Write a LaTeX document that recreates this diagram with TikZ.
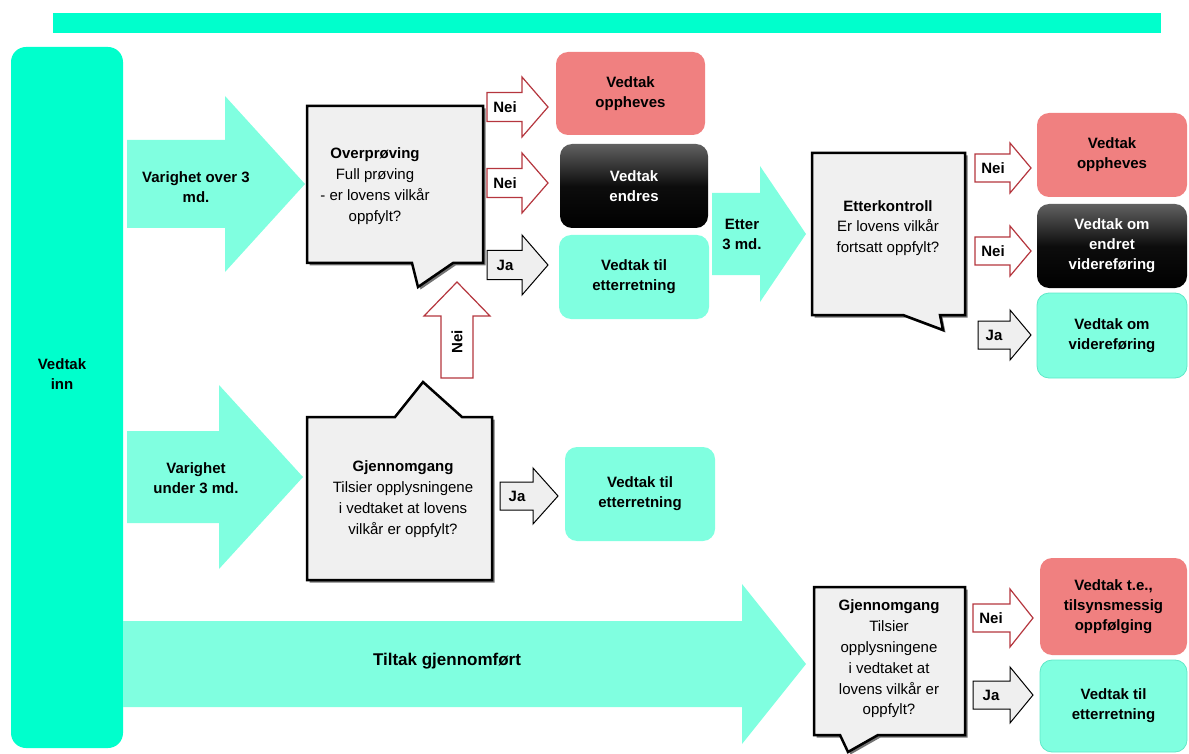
\documentclass[tikz,border=0pt]{standalone}
\usepackage{fontspec}
\setmainfont{Liberation Sans}
\definecolor{barcol}{HTML}{00FFCC}
\definecolor{aqua}{HTML}{80FFE0}
\definecolor{aquaedge}{HTML}{5FE8C8}
\definecolor{coral}{HTML}{F08080}
\definecolor{nered}{HTML}{B5363E}
\definecolor{callfill}{HTML}{F0F0F0}
\definecolor{jafill}{HTML}{EFEFEF}
\newcommand\blkarrow[7][]{\path[#1] (#2,#5-#6) -- (#3,#5-#6) -- (#3,#5-#7) -- (#4,#5) -- (#3,#5+#7) -- (#3,#5+#6) -- (#2,#5+#6) -- cycle;}
\tikzset{
  txt/.style={align=center, inner sep=0pt, font=\fontsize{15}{20.8}\selectfont},
  btxt/.style={align=center, inner sep=0pt, font=\fontsize{15}{20}\selectfont\bfseries},
  bigarrow/.style={fill=aqua},
  neiarrow/.style={fill=white, draw=nered, line width=1.2pt},
  jaarrow/.style={fill=jafill, draw=black, line width=1pt},
  callbox/.style={fill=callfill, draw=black, line width=2.5pt},
  callshadow/.style={fill=black!55},
  resbox/.style={btxt, rounded corners=12pt},
  redbox/.style={resbox, fill=coral},
  blackbox/.style={resbox, top color=black!62, bottom color=black, middle color=black!95, text=white},
  aquabox/.style={resbox, fill=aqua},
  aquaboxe/.style={resbox, fill=aqua, draw=aquaedge, line width=0.8pt},
}
\begin{document}
\begin{tikzpicture}[x=1pt,y=-1pt]
\useasboundingbox (0,0) rectangle (1189,754);
% top bar
\fill[barcol] (53,13) rectangle (1161,33);
% left bar
\node[btxt, fill=barcol, rounded corners=15pt, minimum width=112pt, minimum height=701pt] (inn) at (67,397.5) {};
\node[btxt] (inntxt) at (62,374) {Vedtak\\inn};
% big arrows
\blkarrow[bigarrow]{127}{225}{305}{184}{44}{88}
\node[btxt] (over) at (196,187) {Varighet over 3\\md.};
\blkarrow[bigarrow]{127}{219}{303}{477}{46}{92}
\node[btxt] (under) at (196,478) {Varighet\\under 3 md.};
\blkarrow[bigarrow]{123}{742}{806}{664}{43}{80}
\node[btxt, font=\fontsize{17}{20}\selectfont\bfseries] (tiltak) at (447,661) {Tiltak gjennomført};
\blkarrow[bigarrow]{712}{760}{806}{234}{41}{68}
\node[btxt] (etter) at (742,234) {Etter\\3 md.};
% callout 1
\fill[callshadow] (309.5,108.5) -- (485.5,108.5) -- (485.5,265.5) -- (455.5,265.5) -- (420.5,289.5) -- (414.5,265.5) -- (309.5,265.5) -- cycle;
\filldraw[callbox] (307,106) -- (483,106) -- (483,263) -- (453,263) -- (418,287) -- (412,263) -- (307,263) -- cycle;
\node[txt] (c1) at (375,186) {\textbf{Overprøving}\\Full prøving\\- er lovens vilkår\\oppfylt?};
% callout 2
\fill[callshadow] (309.5,419.5) -- (397.5,419.5) -- (425.5,384.5) -- (464.5,419.5) -- (494.5,419.5) -- (494.5,582.5) -- (309.5,582.5) -- cycle;
\filldraw[callbox] (307,417) -- (395,417) -- (423,382) -- (462,417) -- (492,417) -- (492,580) -- (307,580) -- cycle;
\node[txt] (c2) at (403,499) {\textbf{Gjennomgang}\\Tilsier opplysningene\\i vedtaket at lovens\\vilkår er oppfylt?};
% callout 3
\fill[callshadow] (814.5,155.5) -- (967.5,155.5) -- (967.5,317.5) -- (942.5,317.5) -- (945.5,332.5) -- (905.5,317.5) -- (814.5,317.5) -- cycle;
\filldraw[callbox] (812,153) -- (965,153) -- (965,315) -- (940,315) -- (943,330) -- (903,315) -- (812,315) -- cycle;
\node[txt] (c3) at (888,228) {\textbf{Etterkontroll}\\Er lovens vilkår\\fortsatt oppfylt?};
% callout 4
\fill[callshadow] (816.5,589.5) -- (967.5,589.5) -- (967.5,737.5) -- (880.5,737.5) -- (850.5,754.5) -- (842.5,737.5) -- (816.5,737.5) -- cycle;
\filldraw[callbox] (814,587) -- (965,587) -- (965,735) -- (878,735) -- (848,752) -- (840,735) -- (814,735) -- cycle;
\node[txt] (c4) at (889,659) {\textbf{Gjennomgang}\\Tilsier\\opplysningene\\i vedtaket at\\lovens vilkår er\\oppfylt?};
% result boxes
\node[redbox, minimum width=149pt, minimum height=83pt] (r1) at (630.5,93.5) {Vedtak\\oppheves};
\node[blackbox, minimum width=148pt, minimum height=84pt] (b1) at (634,186) {Vedtak\\endres};
\node[aquabox, minimum width=150pt, minimum height=84pt] (a1) at (634,277) {Vedtak til\\etterretning};
\node[aquabox, minimum width=150pt, minimum height=94pt] (a2) at (640,494) {Vedtak til\\etterretning};
\node[redbox, minimum width=150pt, minimum height=84pt] (r2) at (1112,155) {Vedtak\\oppheves};
\node[blackbox, minimum width=150pt, minimum height=84pt] (b2) at (1112,246) {Vedtak om\\endret\\videreføring};
\node[aquaboxe, minimum width=150pt, minimum height=85pt] (a3) at (1112,335.5) {Vedtak om\\videreføring};
\node[redbox, minimum width=147pt, minimum height=97pt] (r3) at (1113.5,606.5) {Vedtak t.e.,\\tilsynsmessig\\oppfølging};
\node[aquaboxe, minimum width=147pt, minimum height=92pt] (a4) at (1113.5,706) {Vedtak til\\etterretning};
% small arrows
\blkarrow[neiarrow]{487}{522}{548}{107}{14.5}{30}
\node[btxt] (n1) at (505,107) {Nei};
\blkarrow[neiarrow]{487}{522}{548}{183}{14.5}{30}
\node[btxt] (n2) at (505,183) {Nei};
\blkarrow[jaarrow]{487}{522}{548}{265}{14.5}{30}
\node[btxt] (j1) at (505,265) {Ja};
\blkarrow[jaarrow]{500}{533}{558}{496}{14}{28}
\node[btxt] (j2) at (517,496) {Ja};
\blkarrow[neiarrow]{975}{1010}{1031}{168}{14}{25}
\node[btxt] (n3) at (993,168) {Nei};
\blkarrow[neiarrow]{975}{1010}{1031}{251}{14}{25}
\node[btxt] (n4) at (993,251) {Nei};
\blkarrow[jaarrow]{978}{1010}{1031}{335}{14}{25}
\node[btxt] (j3) at (994,335) {Ja};
\blkarrow[neiarrow]{973}{1010}{1033}{618}{14}{29}
\node[btxt] (n5) at (991,618) {Nei};
\blkarrow[jaarrow]{973}{1010}{1033}{695}{14}{28}
\node[btxt] (j4) at (991,695) {Ja};
% vertical Nei arrow
\path[neiarrow] (441,378) -- (441,316) -- (424,316) -- (457,282) -- (490,316) -- (473,316) -- (473,378) -- cycle;
\node[btxt, rotate=90] (n6) at (457,342) {Nei};
\end{tikzpicture}
\end{document}
